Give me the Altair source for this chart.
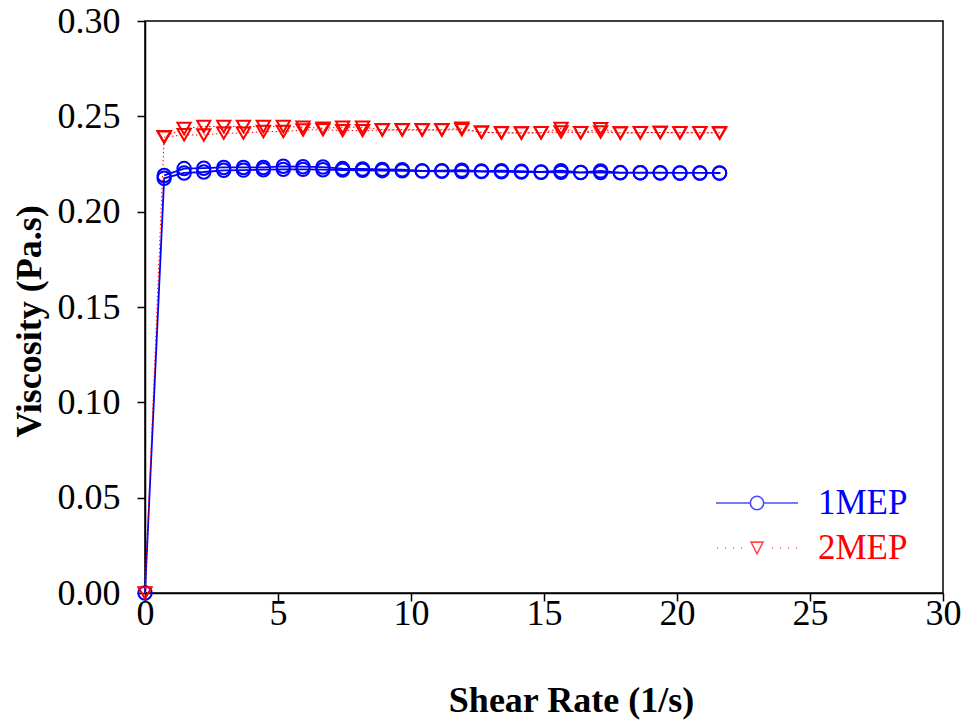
import altair as alt
import pandas as pd

# Shear rate points (x = 0 first, then 29 steps)
shear = [0.0, 0.72, 1.47, 2.21, 2.96, 3.70, 4.45, 5.20, 5.94, 6.69, 7.43, 8.18, 8.92, 9.67,
         10.42, 11.16, 11.91, 12.65, 13.40, 14.15, 14.89, 15.64, 16.38, 17.13, 17.87,
         18.62, 19.37, 20.11, 20.86, 21.60]

# 1MEP: ramp-up sweep (indices 0..29) and ramp-down sweep (indices 1..29, listed by x)
mep1_up = [0.0, 0.2175, 0.2203, 0.2208, 0.2217, 0.2218, 0.2220, 0.2222, 0.2222, 0.2220,
           0.2218, 0.2217, 0.2215, 0.2214, 0.2213, 0.2212, 0.2211, 0.2210, 0.2209, 0.2208,
           0.2207, 0.2206, 0.2205, 0.2205, 0.2204, 0.2204, 0.2203, 0.2203, 0.2203, 0.2202]
mep1_down = [0.2190, 0.2226, 0.2228, 0.2232, 0.2232, 0.2232, 0.2238, 0.2236, 0.2234, 0.2226,
             0.2224, 0.2222, 0.2220, 0.2214, 0.2215, 0.2218, 0.2213, 0.2215, 0.2212, 0.2208,
             0.2215, 0.2206, 0.2214, 0.2205, 0.2204, 0.2204, 0.2203, 0.2203, 0.2203]

# 2MEP
mep2_up = [0.0, 0.2390, 0.2403, 0.2402, 0.2412, 0.2412, 0.2420, 0.2420, 0.2428, 0.2430,
           0.2425, 0.2425, 0.2428, 0.2428, 0.2428, 0.2428, 0.2430, 0.2416, 0.2413, 0.2413,
           0.2414, 0.2418, 0.2414, 0.2418, 0.2413, 0.2414, 0.2415, 0.2414, 0.2414, 0.2412]
mep2_down = [0.2393, 0.2436, 0.2447, 0.2447, 0.2447, 0.2447, 0.2447, 0.2443, 0.2437, 0.2443,
             0.2443, 0.2430, 0.2430, 0.2430, 0.2430, 0.2437, 0.2416, 0.2414, 0.2413, 0.2414,
             0.2436, 0.2414, 0.2435, 0.2413, 0.2414, 0.2415, 0.2414, 0.2414, 0.2414]

series_names = ["1MEP", "2MEP"]
colors = ["#0000ff", "#ff0000"]

rows = []
for name, up, down in [("1MEP", mep1_up, mep1_down), ("2MEP", mep2_up, mep2_down)]:
    order = 0
    for xv, yv in zip(shear, up):
        rows.append({"series": name, "x": xv, "y": yv, "order": order})
        order += 1
    for xv, yv in reversed(list(zip(shear[1:], down))):
        rows.append({"series": name, "x": xv, "y": yv, "order": order})
        order += 1
df = pd.DataFrame(rows)

FONT = "Liberation Serif"
PLOT_H = 572

xenc = alt.X("x:Q", scale=alt.Scale(domain=[0, 30], nice=False),
             axis=alt.Axis(values=[0, 5, 10, 15, 20, 25, 30], title="Shear Rate (1/s)",
                           labelPadding=-5, labelFlush=False, titleX=426, titleY=118,
                           titleBaseline="alphabetic", titleAlign="center"))
yenc = alt.Y("y:Q", scale=alt.Scale(domain=[0, 0.30], nice=False),
             axis=alt.Axis(values=[0, 0.05, 0.10, 0.15, 0.20, 0.25, 0.30], format=".2f",
                           title="Viscosity (Pa.s)", labelPadding=17, labelFlush=False,
                           titleX=-105, titleY=300, titleBaseline="alphabetic",
                           titleAlign="center", titleAngle=-90))

base = alt.Chart(df)

line1 = base.transform_filter("datum.series == '1MEP'").mark_line(
    color=colors[0], strokeWidth=1.8).encode(x=xenc, y=yenc, order="order:Q")
line2 = base.transform_filter("datum.series == '2MEP'").mark_line(
    color=colors[1], strokeWidth=1, strokeDash=[1.5, 2.5]).encode(x=xenc, y=yenc, order="order:Q")
pt1 = base.transform_filter("datum.series == '1MEP'").mark_point(
    shape="circle", filled=False, color=colors[0], size=180, strokeWidth=2, opacity=1
).encode(x=xenc, y=yenc)
pt2 = base.transform_filter("datum.series == '2MEP'").mark_point(
    shape="triangle-down", filled=False, color=colors[1], size=175, strokeWidth=2, opacity=1
).encode(x=xenc, y=yenc)

# legend symbols: line + marker paths (unit box -1..1)
path1 = ("M-1,0L-0.163,0M0.163,0L1,0M-0.163,0A0.163,0.163,0,1,0,0.163,0"
         "A0.163,0.163,0,1,0,-0.163,0")
dots = ""
for dx in [-0.96, -0.765, -0.57, -0.375, 0.375, 0.57, 0.765, 0.96]:
    dots += "M%.3f,0L%.3f,0" % (dx - 0.012, dx + 0.012)
path2 = "M-0.146,-0.143L0.146,-0.143L0,0.143Z" + dots

LEG_SIZE = 6724


def legend_layer(name, path, color, ly):
    return base.transform_filter("false").mark_point(
        filled=False, color=color, size=LEG_SIZE, strokeWidth=1.6
    ).encode(
        x=xenc, y=yenc,
        shape=alt.Shape("series:N", scale=alt.Scale(domain=[name], range=[path]),
                        legend=alt.Legend(title=None, orient="none", legendX=570, legendY=ly,
                                          labelColor=color, labelFont=FONT, labelFontSize=35,
                                          symbolSize=LEG_SIZE, symbolStrokeColor=color,
                                          symbolStrokeWidth=1.6, symbolFillColor="transparent",
                                          labelOffset=19, padding=0))
    )


leg1 = legend_layer("1MEP", path1, colors[0], 440)
leg2 = legend_layer("2MEP", path2, colors[1], 485)

chart = alt.layer(line1, line2, pt1, pt2, leg1, leg2).resolve_scale(
    shape="independent"
).properties(
    width=798, height=PLOT_H,
    padding={"left": 137, "top": 13, "right": 19, "bottom": 135},
    autosize="none",
).configure_view(
    stroke="black", strokeWidth=1.5
).configure_axis(
    grid=False, domainColor="black", domainWidth=1.5, tickColor="black", tickWidth=1.5,
    tickSize=8, labelColor="black", labelFont=FONT, labelFontSize=36,
    titleFont=FONT, titleFontSize=36, titleFontWeight="bold", titleColor="black"
)

chart.save("out.html", embed_options={"renderer": "svg", "actions": False})
